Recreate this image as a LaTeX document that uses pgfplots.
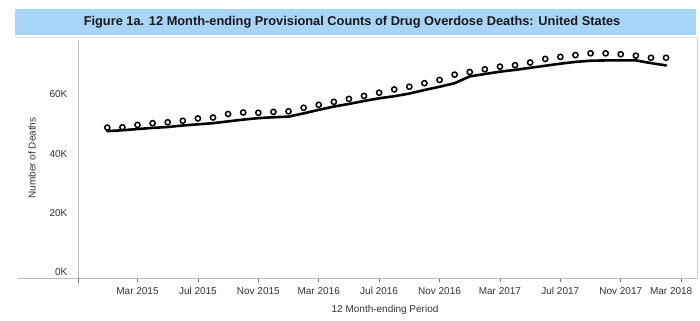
\documentclass[border=0pt]{standalone}
\usepackage{fontspec}
\setmainfont{Liberation Sans}
\usepackage{pgfplots}
\pgfplotsset{compat=1.18}
\definecolor{titleblue}{HTML}{A8D4F7}
\definecolor{axisgray}{HTML}{BDBDBD}
\definecolor{labelgray}{HTML}{333333}
\pgfplotstableread{
m  deaths
0  48800
1  48900
2  49700
3  50300
4  50600
5  51100
6  51900
7  52200
8  53400
9  53900
10 53800
11 54100
12 54300
13 55500
14 56500
15 57500
16 58500
17 59500
18 60600
19 61700
20 62600
21 63800
22 64900
23 66700
24 67600
25 68500
26 69400
27 69900
28 70800
29 72000
30 72700
31 73300
32 73900
33 73900
34 73600
35 73100
36 72400
37 72400
}\predicted
\pgfplotstableread{
m  deaths
0  47600
1  47900
2  48300
3  48700
4  49000
5  49500
6  49900
7  50300
8  50900
9  51500
10 52000
11 52300
12 52500
13 53600
14 54800
15 55900
16 56800
17 57800
18 58700
19 59400
20 60300
21 61500
22 62600
23 63800
24 66100
25 66900
26 67700
27 68300
28 69000
29 69700
30 70400
31 71000
32 71400
33 71500
34 71500
35 71500
36 70600
37 69800
}\reported
\begin{document}
\begin{tikzpicture}
\useasboundingbox (0bp,0bp) rectangle (700bp,321bp);
\fill[titleblue] (15bp,286bp) rectangle (696bp,312bp);
\node[font=\fontsize{12.8bp}{14bp}\selectfont\bfseries, text=black!90] at (352bp,299bp) {Figure 1a. 12 Month-ending Provisional Counts of Drug Overdose Deaths: United States};
\draw[black!12, line width=0.8bp] (15bp,284bp) -- (697bp,284bp);
\draw[axisgray!70, line width=0.6bp] (697bp,284bp) -- (697bp,43bp);
\draw[axisgray, line width=0.8bp] (17bp,43bp) -- (78bp,43bp);
\begin{axis}[
  at={(78bp,43bp)}, anchor=south west, scale only axis,
  width=619bp, height=238bp,
  xmin=-1.94, xmax=39.05, ymin=-2030, ymax=78400,
  axis x line=bottom, axis y line=left,
  axis line style={draw=axisgray, line width=0.8bp, -},
  xtick={2,6,10,14,18,22,26,30,34,38},
  xticklabels={Mar 2015, Jul 2015, Nov 2015, Mar 2016, Jul 2016, Nov 2016, Mar 2017, Jul 2017, Nov 2017, \hspace*{-20bp}Mar 2018},
  extra x ticks={-1.94}, extra x tick labels={},
  extra x tick style={major tick length=5bp},
  ytick={0,20000,40000,60000},
  yticklabels={0K,20K,40K,60K},
  scaled y ticks=false,
  tick align=outside,
  major tick length=3.5bp,
  x tick style={draw=black!55, line width=0.8bp},
  y tick style={draw=none},
  tick label style={font=\fontsize{10bp}{12bp}\selectfont, text=labelgray},
  xticklabel style={inner sep=0pt, anchor=base, yshift=-13bp},
  yticklabel style={inner sep=0pt, anchor=east, xshift=-7bp},
  xlabel={12 Month-ending Period},
  ylabel={Number of Deaths},
  label style={font=\fontsize{10bp}{12bp}\selectfont, text=labelgray},
  xlabel style={at={(axis description cs:0.496,-0.134)}, anchor=center},
  ylabel style={at={(axis description cs:-0.0743,0.504)}, anchor=center},
  clip=false,
]
\addplot[black, line width=2.6bp, line join=round, line cap=round] table[x=m, y=deaths] {\reported};
\addplot[only marks, mark=o, mark size=2.6bp, mark options={black, line width=1.5bp, fill=white}] table[x=m, y=deaths] {\predicted};
\end{axis}
\end{tikzpicture}
\end{document}
